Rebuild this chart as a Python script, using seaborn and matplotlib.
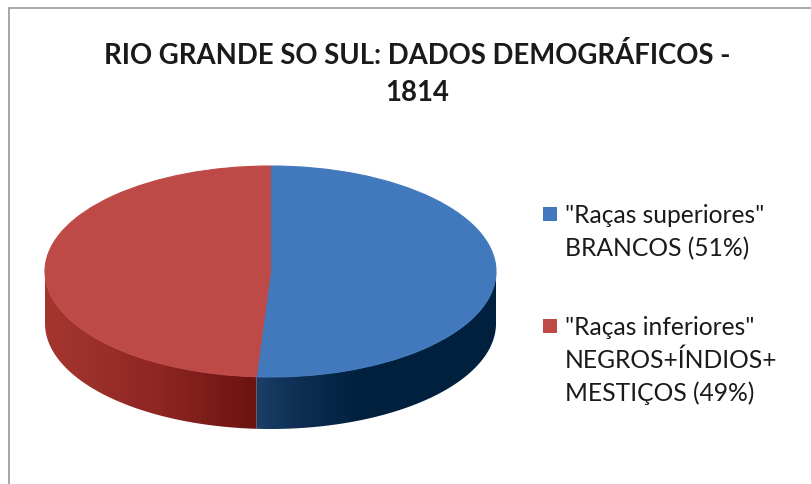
import numpy as np
import matplotlib
matplotlib.use("Agg")
import matplotlib.pyplot as plt
import seaborn as sns
from matplotlib.patches import Polygon, Rectangle
from matplotlib.lines import Line2D
from matplotlib.colors import to_rgb

# ---------------- data ----------------
categories = ['"Raças superiores"\nBRANCOS (51%)',
              '"Raças inferiores"\nNEGROS+ÍNDIOS+\nMESTIÇOS (49%)']
values = [51, 49]
title_lines = ["RIO GRANDE SO SUL: DADOS DEMOGRÁFICOS -", "1814"]

# ---------------- style ----------------
top_colors = ["#4279BC", "#BE4A47"]
# side gradients: (x in data units, colour)
side_grad = [
    [(-0.07, "#1B4069"), (0.12, "#0F2E52"), (0.40, "#01213F"), (1.0, "#00203E")],
    [(-1.0, "#A5362F"), (-0.5, "#8E2624"), (-0.07, "#6C1410")],
]

sns.set_theme(style="white")
plt.rcParams["font.family"] = ["Lato", "DejaVu Sans"]

W, H = 811, 485
fig = plt.figure(figsize=(W / 100, H / 100), dpi=100)
fig.patch.set_facecolor("white")

def fx(px):
    return px / W

def fy(py):
    return 1 - py / H

# chart-area border (top and left visible)
fig.add_artist(Line2D([fx(9), 1.0], [fy(9), fy(9)], color="#A0A0A0", lw=1.3,
                      transform=fig.transFigure))
fig.add_artist(Line2D([fx(9), fx(9)], [fy(9), 0.0], color="#A0A0A0", lw=1.3,
                      transform=fig.transFigure))

# ---------------- pie ----------------
depth = 0.493
ax = fig.add_axes([fx(45), fy(430), (496 - 45) / W, (430 - 167) / H])
wedges, _ = ax.pie(values, colors=top_colors, startangle=90, counterclock=False,
                   radius=1, center=(0, 0),
                   wedgeprops=dict(linewidth=0.8, zorder=5, antialiased=True))
for w in wedges:
    w.set_edgecolor(w.get_facecolor())
ax.set_aspect("auto")
ax.set_xlim(-1, 1)
ax.set_ylim(-1 - depth, 1)
ax.axis("off")

# 3D side walls, computed from the wedge angles
for w, grad in zip(wedges, side_grad):
    t1, t2 = w.theta1, w.theta2
    for k in range(-2, 3):
        a = max(t1, 180 + 360 * k)
        b = min(t2, 360 + 360 * k)
        if b <= a:
            continue
        t = np.radians(np.linspace(a, b, 200))
        top = np.column_stack([np.cos(t), np.sin(t)])
        bot = np.column_stack([np.cos(t[::-1]), np.sin(t[::-1]) - depth])
        poly = Polygon(np.vstack([top, bot]), closed=True, facecolor="none",
                       edgecolor="none", transform=ax.transData)
        ax.add_patch(poly)
        xs = np.linspace(-1, 1, 600)
        gx = [g[0] for g in grad]
        cols = np.array([to_rgb(g[1]) for g in grad])
        rgb = np.stack([np.interp(xs, gx, cols[:, c]) for c in range(3)], axis=-1)
        img = rgb[np.newaxis, :, :].repeat(4, axis=0)
        im = ax.imshow(img, extent=(-1, 1, -1 - depth, 0.05), aspect="auto",
                       interpolation="bilinear", zorder=2)
        im.set_clip_path(poly)

ax.set_xlim(-1, 1)
ax.set_ylim(-1 - depth, 1)

# ---------------- title ----------------
fig.canvas.draw()
rend = fig.canvas.get_renderer()

t1 = fig.text(fx(417), fy(64), title_lines[0], ha="center", va="baseline",
              fontsize=20, fontweight="bold", color="#1a1a1a")
w_px = t1.get_window_extent(rend).width
t1.set_fontsize(20 * 628 / w_px)
fig.text(fx(417), fy(101), title_lines[1], ha="center", va="baseline",
         fontsize=t1.get_fontsize(), fontweight="bold", color="#1a1a1a")

# ---------------- legend ----------------
probe = fig.text(0, 0, categories[0].split("\n")[0], fontsize=15)
lw_px = probe.get_window_extent(rend).width
leg_fs = 15 * 200 / lw_px
probe.remove()

entry_top_base = [223, 335]
square_top = [208, 320]
line_step = 33
for lab, col, b0, sq in zip(categories, top_colors, entry_top_base, square_top):
    fig.add_artist(Rectangle((fx(543), fy(sq + 14)), 14 / W, 14 / H,
                             transform=fig.transFigure, facecolor=col,
                             edgecolor="none"))
    for i, line in enumerate(lab.split("\n")):
        fig.text(fx(565), fy(b0 + i * line_step), line, ha="left", va="baseline",
                 fontsize=leg_fs, color="#1a1a1a")

fig.savefig("out.png", dpi=100, facecolor="white")
